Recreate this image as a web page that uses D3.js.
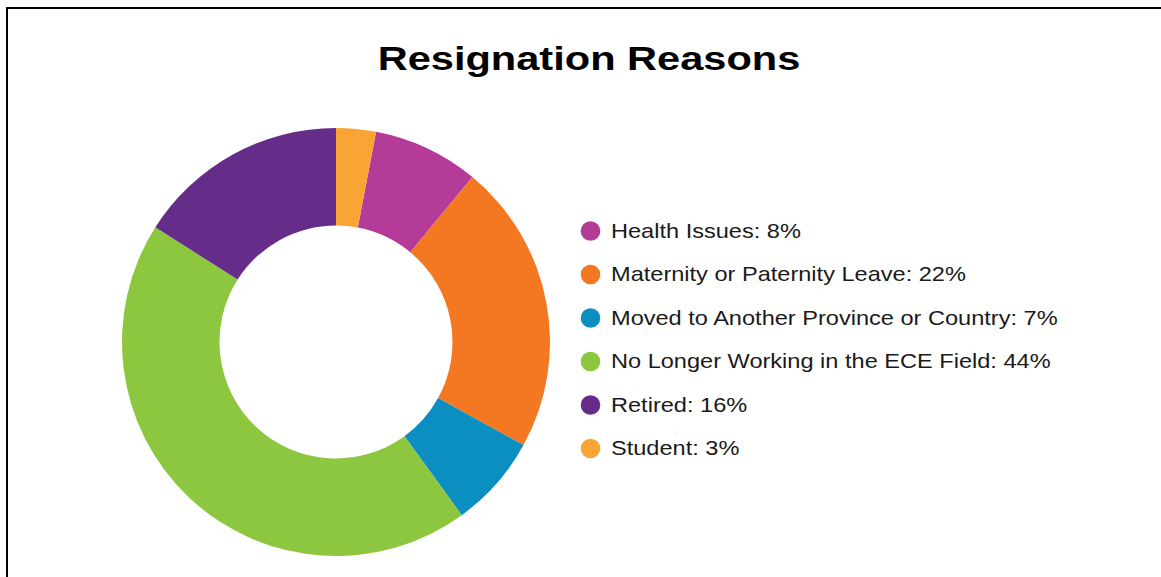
<!DOCTYPE html>
<html>
<head>
<meta charset="utf-8">
<script src="https://cdn.jsdelivr.net/npm/d3@7"></script>
<style>
  html, body { margin: 0; padding: 0; background: #ffffff; }
  svg { display: block; }
  text { font-family: "Liberation Sans", Arial, sans-serif; }
</style>
</head>
<body>
<svg id="chart" width="1161" height="577"></svg>
<script>
// Resignation reasons, share of respondents (%)
const categories = [
  "Health Issues",
  "Maternity or Paternity Leave",
  "Moved to Another Province or Country",
  "No Longer Working in the ECE Field",
  "Retired",
  "Student"
];
const values = [8, 22, 7, 44, 16, 3];
const colors = ["#B43C98", "#F47721", "#0A8FC0", "#8DC63F", "#652C8A", "#F8A535"];
const title = "Resignation Reasons";

const data = categories.map((c, i) => ({ name: c, value: values[i], color: colors[i] }));

const svg = d3.select("#chart");
const W = 1161, H = 577;

// frame around the panel
svg.append("rect")
  .attr("x", 7).attr("y", 8)
  .attr("width", W + 20).attr("height", H + 20)
  .attr("fill", "#ffffff")
  .attr("stroke", "#000000")
  .attr("stroke-width", 2);

// title (wide lettering)
svg.append("text")
  .attr("transform", "translate(589,70) scale(1.26,1)")
  .attr("text-anchor", "middle")
  .attr("font-size", 33)
  .attr("font-weight", "bold")
  .attr("fill", "#000000")
  .text(title);

// donut: the last slice (Student) sits just right of 12 o'clock,
// so the first slice starts where the last one ends
const total = d3.sum(values);
const start = values[values.length - 1] / total * 2 * Math.PI;
const pie = d3.pie().sort(null).value(d => d.value)
  .startAngle(start).endAngle(start + 2 * Math.PI);

const cx = 336, cy = 342, outerR = 214, innerR = 116.5;
const arc = d3.arc().innerRadius(innerR).outerRadius(outerR);

svg.append("g")
  .attr("transform", `translate(${cx},${cy})`)
  .selectAll("path")
  .data(pie(data))
  .join("path")
  .attr("d", arc)
  .attr("fill", d => d.data.color);

// legend
const legendY = d3.scalePoint()
  .domain(categories)
  .range([231, 448.5]);

const legend = svg.append("g")
  .selectAll("g")
  .data(data)
  .join("g")
  .attr("transform", d => `translate(590.5,${legendY(d.name)})`);

legend.append("circle")
  .attr("r", 9.8)
  .attr("fill", d => d.color);

legend.append("text")
  .attr("transform", "translate(20.5,6.5) scale(1.15,1)")
  .attr("font-size", 20.5)
  .attr("fill", "#1a1a1a")
  .text(d => `${d.name}: ${d.value}%`);
</script>
</body>
</html>
